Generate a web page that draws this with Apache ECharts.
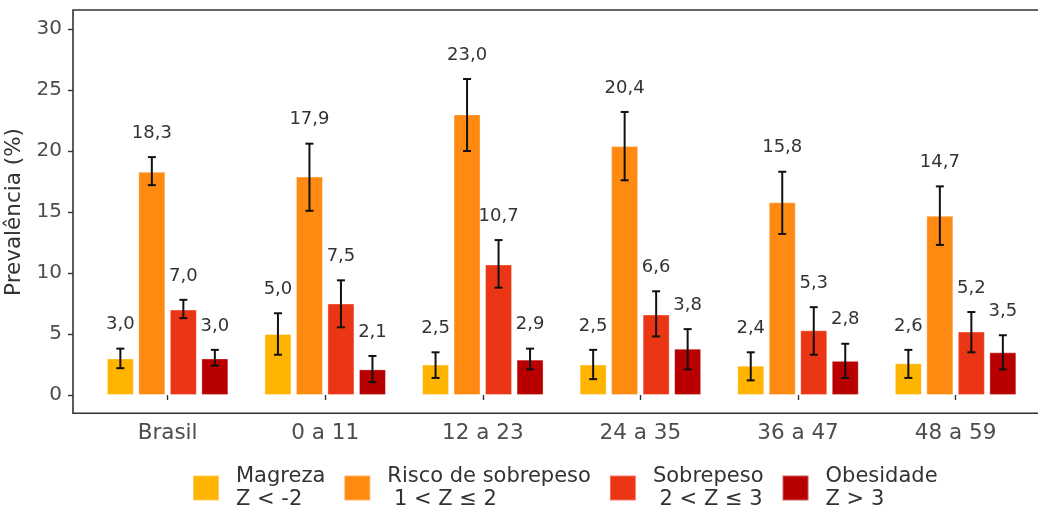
<!DOCTYPE html>
<html>
<head>
<meta charset="utf-8">
<script src="https://cdn.jsdelivr.net/npm/echarts@6/dist/echarts.min.js"></script>
<style>
html,body{margin:0;padding:0;background:#fff;}
#chart{width:1038px;height:510px;}
</style>
</head>
<body>
<div id="chart"></div>
<script>
var categories = ['Brasil', '0 a 11', '12 a 23', '24 a 35', '36 a 47', '48 a 59'];
var seriesNames = ['Magreza\nZ < -2', 'Risco de sobrepeso\n 1 < Z \u2264 2', 'Sobrepeso\n 2 < Z \u2264 3', 'Obesidade\nZ > 3'];
var magreza = [3.0, 5.0, 2.5, 2.5, 2.4, 2.6];
var magrezaLow = [2.2, 3.3, 1.4, 1.3, 1.2, 1.4];
var magrezaHigh = [3.8, 6.7, 3.5, 3.7, 3.5, 3.7];
var risco = [18.3, 17.9, 23.0, 20.4, 15.8, 14.7];
var riscoLow = [17.2, 15.1, 20.0, 17.6, 13.2, 12.3];
var riscoHigh = [19.5, 20.6, 25.9, 23.2, 18.3, 17.1];
var sobrepeso = [7.0, 7.5, 10.7, 6.6, 5.3, 5.2];
var sobrepesoLow = [6.3, 5.55, 8.8, 4.8, 3.3, 3.5];
var sobrepesoHigh = [7.8, 9.4, 12.7, 8.5, 7.2, 6.8];
var obesidade = [3.0, 2.1, 2.9, 3.8, 2.8, 3.5];
var obesidadeLow = [2.4, 1.05, 2.1, 2.1, 1.4, 2.1];
var obesidadeHigh = [3.7, 3.2, 3.8, 5.4, 4.2, 4.9];
var yTicks = [0, 5, 10, 15, 20, 25, 30];

var colors = ['#FFB400', '#FF8A12', '#EA3614', '#B80000'];
var values = [magreza, risco, sobrepeso, obesidade];
var lows = [magrezaLow, riscoLow, sobrepesoLow, obesidadeLow];
var highs = [magrezaHigh, riscoHigh, sobrepesoHigh, obesidadeHigh];

var BAR_W = 27, BAR_GAP = 4.5;
var FONT = 'DejaVu Sans';

function fmt(v){ return v.toFixed(1).replace('.', ','); }

var series = [];
values.forEach(function(vals, si){
  series.push({
    type: 'bar',
    name: seriesNames[si],
    data: vals,
    barWidth: BAR_W,
    barGap: (BAR_GAP / BAR_W * 100).toFixed(2) + '%',
    itemStyle: { color: colors[si], borderColor: 'rgba(255,255,255,0.35)', borderWidth: 1 },
    emphasis: { disabled: true },
    z: 2
  });
});

values.forEach(function(vals, si){
  var data = vals.map(function(v, ci){ return [ci, v, lows[si][ci], highs[si][ci]]; });
  series.push({
    type: 'custom',
    name: 'err' + si,
    data: data,
    z: 5,
    silent: true,
    renderItem: function(params, api){
      var ci = api.value(0);
      var offset = -((4 * BAR_W + 3 * BAR_GAP) / 2) + BAR_W / 2 + si * (BAR_W + BAR_GAP);
      var hi = api.coord([ci, api.value(3)]);
      var lo = api.coord([ci, api.value(2)]);
      var x = hi[0] + offset;
      var cap = 4;
      var ls = { stroke: '#111', lineWidth: 2 };
      return {
        type: 'group',
        children: [
          { type: 'line', shape: { x1: x, y1: hi[1], x2: x, y2: lo[1] }, style: ls },
          { type: 'line', shape: { x1: x - cap, y1: hi[1], x2: x + cap, y2: hi[1] }, style: ls },
          { type: 'line', shape: { x1: x - cap, y1: lo[1], x2: x + cap, y2: lo[1] }, style: ls },
          { type: 'text', x: x, y: hi[1] - 24, style: {
              text: fmt(api.value(1)), fill: '#333', font: '18px ' + FONT,
              align: 'center', verticalAlign: 'middle' } }
        ]
      };
    }
  });
});

var option = {
  backgroundColor: '#ffffff',
  animation: false,
  textStyle: { fontFamily: FONT },
  grid: [
    { left: 88.8, width: 945.6, top: 29, height: 366, containLabel: false, outerBoundsMode: 'none' },
    { left: 73, width: 977, top: 10, height: 403.3, show: true, borderColor: '#333', borderWidth: 1.6,
      backgroundColor: 'transparent', z: 0, outerBoundsMode: 'none' }
  ],
  xAxis: [
    { type: 'category', gridIndex: 0, data: categories,
      axisLine: { show: false },
      axisTick: { show: true, alignWithLabel: true, length: 5, lineStyle: { color: '#333', width: 1.4 } },
      axisLabel: { color: '#4d4d4d', fontSize: 21.5, fontFamily: FONT, margin: 27 }
    },
    { type: 'value', gridIndex: 1, show: false, min: 0, max: 1 }
  ],
  yAxis: [
    { type: 'value', gridIndex: 0, min: 0, max: 30, interval: 5, offset: 15.8,
      name: 'Prevalência (%)', nameLocation: 'middle', nameGap: 36,
      nameTextStyle: { color: '#333', fontSize: 21.5, fontFamily: FONT },
      axisLine: { show: false },
      axisTick: { show: true, length: 5, lineStyle: { color: '#333', width: 1.4 } },
      axisLabel: { color: '#4d4d4d', fontSize: 20, fontFamily: FONT, margin: 11 },
      splitLine: { show: false }
    },
    { type: 'value', gridIndex: 1, show: false, min: 0, max: 1 }
  ],
  legend: {
    data: seriesNames,
    top: 460,
    left: 187,
    itemWidth: 26,
    itemHeight: 25,
    itemGap: 18,
    icon: 'rect',
    selectedMode: false,
    textStyle: { color: '#333', fontSize: 21, fontFamily: FONT, lineHeight: 23, padding: [0, 0, 0, 12] }
  },
  series: series
};

var chart = echarts.init(document.getElementById('chart'), null, { renderer: 'canvas' });
chart.setOption(option);
</script>
</body>
</html>
